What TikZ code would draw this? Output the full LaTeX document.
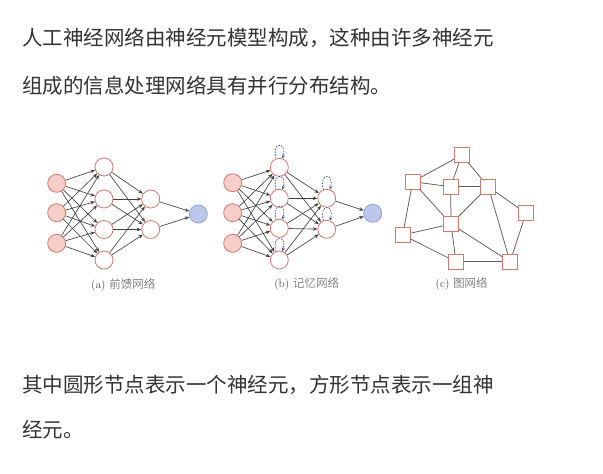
\documentclass[tikz,border=0pt]{standalone}
\usepackage{fontspec}
\newfontfamily\cjk{Noto Sans CJK SC}
\newfontfamily\cjkl{Noto Sans CJK SC Light}
\usetikzlibrary{arrows.meta}
\definecolor{txt}{HTML}{333333}
\definecolor{cap}{HTML}{4A4A4A}
\definecolor{redb}{HTML}{D8786C}
\definecolor{redf}{HTML}{F6CFC8}
\definecolor{blueb}{HTML}{8E9ED6}
\definecolor{bluef}{HTML}{BCC7EC}
\definecolor{edgec}{HTML}{404040}
\definecolor{loopc}{HTML}{3A48A8}
\tikzset{
  inp/.style={circle,draw=redb,fill=redf,line width=0.8pt,minimum size=18pt,inner sep=0pt},
  hid/.style={circle,draw=redb,fill=white,line width=0.8pt,minimum size=18pt,inner sep=0pt},
  outn/.style={circle,draw=blueb,fill=bluef,line width=0.8pt,minimum size=18pt,inner sep=0pt},
  sq/.style={rectangle,draw=redb,fill=white,line width=0.8pt,minimum size=15pt,inner sep=0pt},
  arr/.style={draw=edgec,line width=0.65pt,-{Stealth[length=4.5pt,width=3.5pt]}},
  gedge/.style={draw=edgec!85,line width=0.75pt},
  selfloop/.style={draw=loopc,dashed,dash pattern=on 1.6pt off 1.2pt,line width=0.7pt,-{Stealth[length=3.5pt,width=3pt]}},
  para/.style={anchor=west,inner sep=0pt,text=txt,font=\cjk\fontsize{20.5}{24}\selectfont},
  capt/.style={inner sep=0pt,text=cap,font=\fontsize{11.5}{13}\selectfont},
}
\begin{document}
\begin{tikzpicture}[x=1pt,y=-1pt]
\useasboundingbox (0,0) rectangle (603,474);
\fill[white] (0,0) rectangle (603,474);
% paragraph text
\node[para] (t1) at (22,38) {人工神经网络由神经元模型构成，这种由许多神经元};
\node[para] (t2) at (22,86) {组成的信息处理网络具有并行分布结构。};
\node[para] (t3) at (22,385) {其中圆形节点表示一个神经元，方形节点表示一组神};
\node[para] (t4) at (22,430) {经元。};

% ---------- (a) feedforward ----------
\node[inp] (ai1) at (56.7,183.3) {};
\node[inp] (ai2) at (56.7,212.7) {};
\node[inp] (ai3) at (56.7,243.3) {};
\node[hid] (ah1) at (104,167) {};
\node[hid] (ah2) at (104,199) {};
\node[hid] (ah3) at (104,229.5) {};
\node[hid] (ah4) at (104,260) {};
\node[hid] (ag1) at (150.7,199) {};
\node[hid] (ag2) at (150.7,229.5) {};
\node[outn] (ao) at (198.3,214) {};
\foreach \i in {1,2,3}{\foreach \j in {1,2,3,4}{\draw[arr] (ai\i) -- (ah\j);}}
\foreach \i in {1,2,3,4}{\foreach \j in {1,2}{\draw[arr] (ah\i) -- (ag\j);}}
\foreach \i in {1,2}{\draw[arr] (ag\i) -- (ao);}
\node[capt] (capa) at (123.3,285.5) {(a) {\cjkl 前馈网络}};

% ---------- (b) memory ----------
\node[inp] (bi1) at (232.7,182.7) {};
\node[inp] (bi2) at (232.7,212.7) {};
\node[inp] (bi3) at (232.7,243.3) {};
\node[hid] (bh1) at (279.3,167.3) {};
\node[hid] (bh2) at (279.3,198.3) {};
\node[hid] (bh3) at (279.3,228.3) {};
\node[hid] (bh4) at (279.3,260) {};
\node[hid] (bg1) at (326.7,198.3) {};
\node[hid] (bg2) at (326.7,229.3) {};
\node[outn] (bo) at (372.7,213.3) {};
\foreach \i in {1,2,3}{\foreach \j in {1,2,3,4}{\draw[arr] (bi\i) -- (bh\j);}}
\foreach \i in {1,2,3,4}{\foreach \j in {1,2}{\draw[arr] (bh\i) -- (bg\j);}}
\foreach \i in {1,2}{\draw[arr] (bg\i) -- (bo);}
\foreach \n in {bh1,bh2,bh3,bh4,bg1,bg2}{
  \draw[selfloop] (\n.110) .. controls +(-5,-17) and +(5,-17) .. (\n.70);
}
\node[capt] (capb) at (306.7,284) {(b) {\cjkl 记忆网络}};

% ---------- (c) graph ----------
\node[sq] (cA) at (461.7,155) {};
\node[sq] (cB) at (412.7,181.7) {};
\node[sq] (cC) at (450.7,186.7) {};
\node[sq] (cD) at (488.3,186.7) {};
\node[sq] (cE) at (526,213.3) {};
\node[sq] (cF) at (451,224) {};
\node[sq] (cG) at (402.7,235) {};
\node[sq] (cH) at (456,261.7) {};
\node[sq] (cI) at (510,261.7) {};
\foreach \a/\b in {cA/cB,cA/cC,cA/cD,cB/cC,cB/cF,cB/cG,cC/cD,cC/cF,cD/cF,cD/cE,cD/cI,cE/cI,cF/cG,cF/cH,cF/cI,cG/cH,cH/cI}{
  \draw[gedge] (\a) -- (\b);
}
\node[capt] (capc) at (461.7,284) {(c) {\cjkl 图网络}};
\end{tikzpicture}
\end{document}
